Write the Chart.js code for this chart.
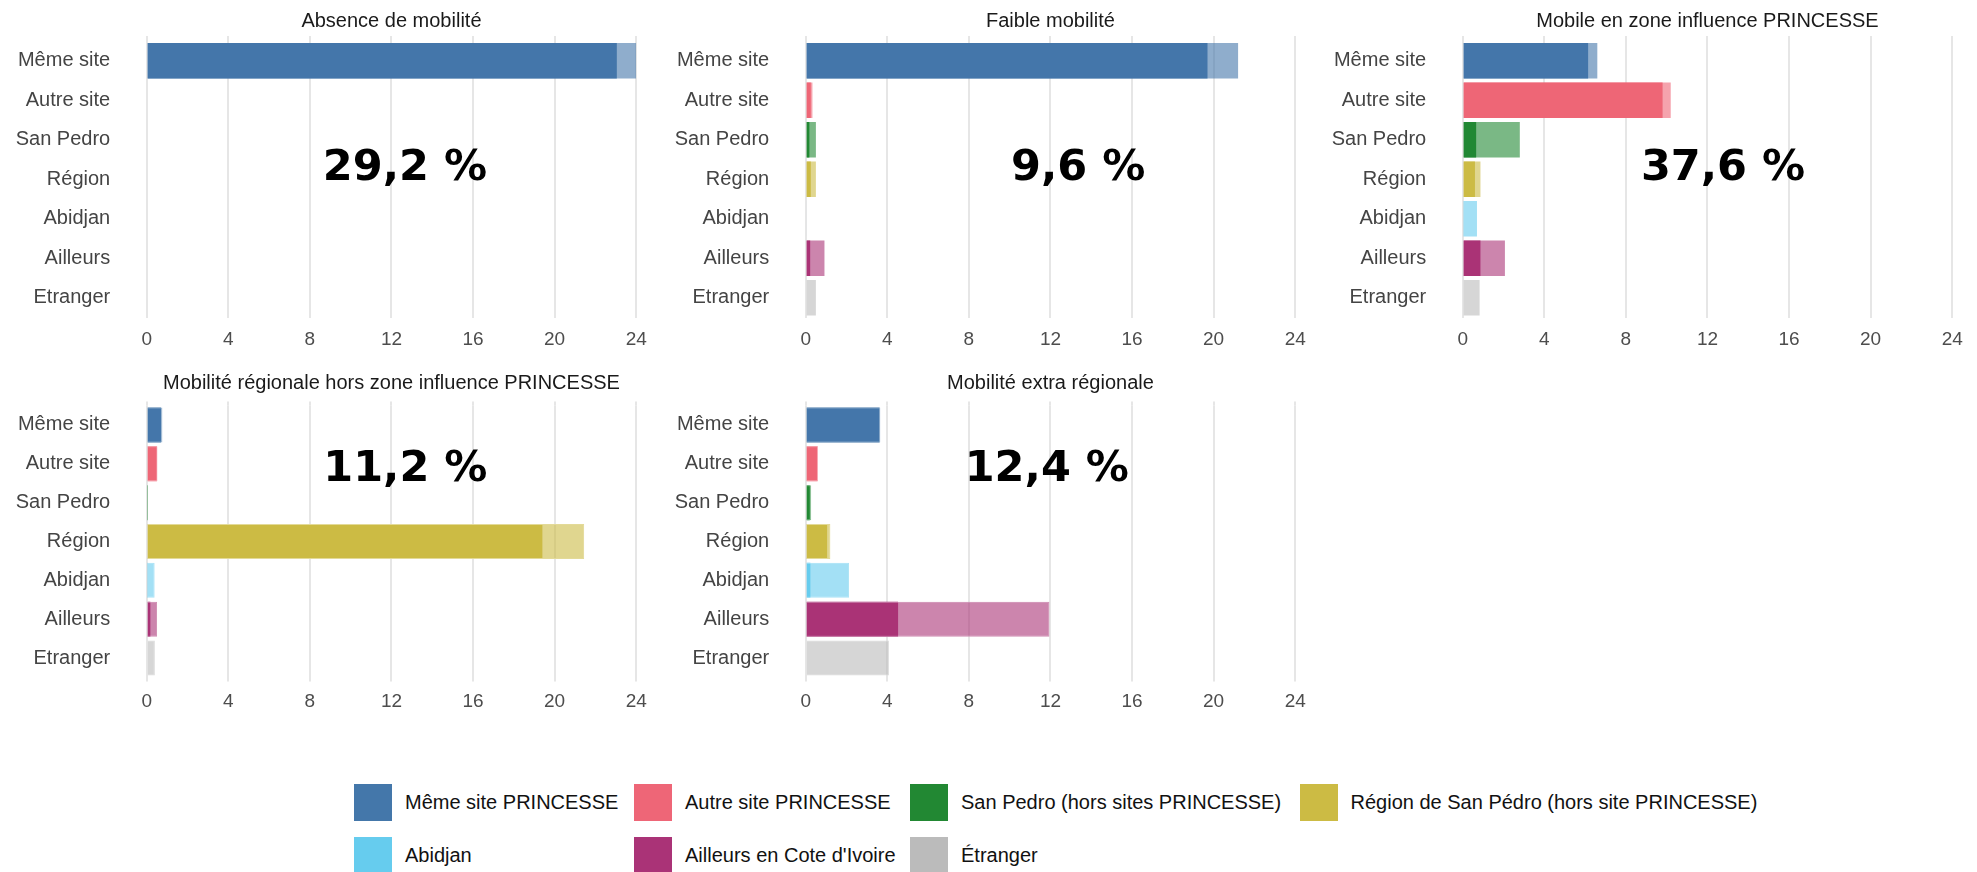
<!DOCTYPE html>
<html>
<head>
<meta charset="utf-8">
<script src="https://cdn.jsdelivr.net/npm/chart.js@4.4.1/dist/chart.umd.min.js"></script>
<style>
  html, body { margin:0; padding:0; background:#fff; width:1977px; height:872px; overflow:hidden; position:relative;
    font-family:"Liberation Sans", Arial, sans-serif; }
  .panel { position:absolute; }
  .leg { position:absolute; display:flex; align-items:center; font-size:20px; color:#111; white-space:nowrap; }
  .sw { width:38px; height:37px; margin-right:13px; flex:none; }
</style>
</head>
<body>
<div class="panel" id="p0"><canvas id="c0"></canvas></div>
<div class="panel" id="p1"><canvas id="c1"></canvas></div>
<div class="panel" id="p2"><canvas id="c2"></canvas></div>
<div class="panel" id="p3"><canvas id="c3"></canvas></div>
<div class="panel" id="p4"><canvas id="c4"></canvas></div>
<div id="legend"></div>
<script>
// ---------------- DATA ----------------
const categories = ["Même site", "Autre site", "San Pedro", "Région", "Abidjan", "Ailleurs", "Etranger"];
const xTickValues = [0, 4, 8, 12, 16, 20, 24];
const panelTitles = ["Absence de mobilité", "Faible mobilité", "Mobile en zone influence PRINCESSE",
                     "Mobilité régionale hors zone influence PRINCESSE", "Mobilité extra régionale"];
const shareLabels = ["29,2 %", "9,6 %", "37,6 %", "11,2 %", "12,4 %"];

const absenceDark    = [23.05, 0, 0, 0, 0, 0, 0];
const absenceTotal   = [24.0, 0, 0, 0, 0, 0, 0];
const faibleDark     = [19.7, 0.25, 0.18, 0.25, 0, 0.22, 0];
const faibleTotal    = [21.2, 0.33, 0.5, 0.5, 0.05, 0.92, 0.5];
const zoneDark       = [6.15, 9.8, 0.66, 0.6, 0.04, 0.87, 0];
const zoneTotal      = [6.6, 10.2, 2.8, 0.87, 0.7, 2.07, 0.83];
const regionaleDark  = [0.7, 0.5, 0.03, 19.4, 0.03, 0.18, 0];
const regionaleTotal = [0.77, 0.53, 0.06, 21.45, 0.39, 0.51, 0.4];
const extraDark      = [3.62, 0.58, 0.2, 1.05, 0.23, 4.53, 0];
const extraTotal     = [3.66, 0.6, 0.27, 1.21, 2.13, 11.95, 4.08];

const seriesColors = ["#4477AA", "#EE6677", "#228833", "#CCBB44", "#66CCEE", "#AA3377", "#BBBBBB"];
const legendLabels = ["Même site PRINCESSE", "Autre site PRINCESSE", "San Pedro (hors sites PRINCESSE)",
                      "Région de San Pédro (hors site PRINCESSE)", "Abidjan", "Ailleurs en Cote d'Ivoire", "Étranger"];

// ---------------- LAYOUT ----------------
const panelDark  = [absenceDark, faibleDark, zoneDark, regionaleDark, extraDark];
const panelTotal = [absenceTotal, faibleTotal, zoneTotal, regionaleTotal, extraTotal];
const boxes = [
  { left: 0,    top: 0,   w: 657, h: 352, padTop: 41,   xH: 34.5, titleY: 21, tickPad: 11,   ticks: false, border: 0, ax: 12.66, ay: 2.74 },
  { left: 659,  top: 0,   w: 657, h: 352, padTop: 41,   xH: 34.5, titleY: 21, tickPad: 11,   ticks: false, border: 0, ax: 13.36, ay: 2.74 },
  { left: 1316, top: 0,   w: 657, h: 352, padTop: 41,   xH: 34.5, titleY: 21, tickPad: 11,   ticks: false, border: 0, ax: 12.76, ay: 2.74 },
  { left: 0,    top: 360, w: 657, h: 354, padTop: 45.5, xH: 36.5, titleY: 23, tickPad: 9,    ticks: true,  border: 1, ax: 12.68, ay: 1.15 },
  { left: 659,  top: 360, w: 657, h: 354, padTop: 45.5, xH: 36.5, titleY: 23, tickPad: 9,    ticks: true,  border: 1, ax: 11.82, ay: 1.15 }
];
const gridExtTop = [5, 5, 5, 4, 4];
const legendCols = [354, 634, 910, 1299.5];
const legendRows = [784, 836.7];
const FONT = '"Liberation Sans", Arial, sans-serif';
const GRID = '#e6e6e6';

function lighten(hex, a) {
  const n = parseInt(hex.slice(1), 16);
  const r = (n >> 16) & 255, g = (n >> 8) & 255, b = n & 255;
  const f = v => Math.round(a * v + (1 - a) * 255);
  return `rgb(${f(r)},${f(g)},${f(b)})`;
}
function rgba(hex, a) {
  const n = parseInt(hex.slice(1), 16);
  return `rgba(${(n >> 16) & 255},${(n >> 8) & 255},${n & 255},${a})`;
}

const panelText = {
  id: 'panelText',
  beforeDatasetsDraw(chart, args, opts) {
    // short extension of the vertical grid lines above the plotting area
    const { ctx, chartArea, scales } = chart;
    ctx.save();
    ctx.strokeStyle = GRID;
    ctx.lineWidth = 2;
    scales.x.ticks.forEach(t => {
      const x = Math.round(scales.x.getPixelForValue(t.value));
      ctx.beginPath();
      ctx.moveTo(x, chartArea.top - opts.ext);
      ctx.lineTo(x, chartArea.top);
      ctx.stroke();
    });
    ctx.restore();
  },
  afterDraw(chart, args, opts) {
    const { ctx, chartArea, scales } = chart;
    ctx.save();
    ctx.textAlign = 'center';
    ctx.textBaseline = 'middle';
    ctx.font = '20px ' + FONT;
    ctx.fillStyle = '#1a1a1a';
    ctx.fillText(opts.title, (chartArea.left + chartArea.right) / 2, opts.titleY);
    ctx.font = 'bold 43px "DejaVu Sans", sans-serif';
    ctx.fillStyle = '#000';
    ctx.fillText(opts.share, scales.x.getPixelForValue(opts.ax), scales.y.getPixelForValue(opts.ay));
    ctx.restore();
  }
};

boxes.forEach((b, i) => {
  const div = document.getElementById('p' + i);
  div.style.left = b.left + 'px';
  div.style.top = b.top + 'px';
  div.style.width = b.w + 'px';
  div.style.height = b.h + 'px';

  new Chart(document.getElementById('c' + i), {
    type: 'bar',
    data: {
      labels: categories,
      datasets: [
        {
          label: 'total',
          data: panelTotal[i],
          backgroundColor: seriesColors.map(c => rgba(c, 0.6)),
          borderColor: seriesColors.map(c => lighten(c, 0.55)),
          borderWidth: b.border,
          borderSkipped: 'start',
          grouped: false,
          order: 0,
          barPercentage: 0.9,
          categoryPercentage: 1
        },
        {
          label: 'dark',
          data: panelDark[i],
          backgroundColor: seriesColors,
          borderWidth: 0,
          grouped: false,
          order: 1,
          barPercentage: 0.9,
          categoryPercentage: 1
        }
      ]
    },
    options: {
      indexAxis: 'y',
      responsive: true,
      maintainAspectRatio: false,
      animation: false,
      events: [],
      layout: { padding: { left: 6.7, right: 20.8, top: b.padTop, bottom: 0 } },
      plugins: {
        legend: { display: false },
        tooltip: { enabled: false },
        title: { display: false },
        panelText: { title: panelTitles[i], share: shareLabels[i], titleY: b.titleY, ax: b.ax, ay: b.ay, ext: gridExtTop[i] }
      },
      scales: {
        x: {
          type: 'linear',
          min: xTickValues[0],
          max: xTickValues[xTickValues.length - 1],
          afterFit: s => { s.height = b.xH; s.paddingLeft = 0; s.paddingRight = 0; },
          afterBuildTicks: s => { s.ticks = xTickValues.map(v => ({ value: v })); },
          grid: { color: GRID, lineWidth: 2, drawTicks: b.ticks, tickLength: 4 },
          border: { display: false },
          ticks: { padding: b.tickPad, maxRotation: 0, color: '#4d4d4d', font: { size: 19, family: FONT } }
        },
        y: {
          afterFit: s => { s.width = 140; s.paddingTop = 0; s.paddingBottom = 0; },
          grid: { display: false, drawTicks: false },
          border: { display: false },
          ticks: { padding: 36.5, color: '#444', font: { size: 20, family: FONT } }
        }
      }
    },
    plugins: [panelText]
  });
});

// ---------------- LEGEND ----------------
const legend = document.getElementById('legend');
legendLabels.forEach((lab, k) => {
  const row = Math.floor(k / legendCols.length), col = k % legendCols.length;
  const item = document.createElement('div');
  item.className = 'leg';
  item.style.left = legendCols[col] + 'px';
  item.style.top = legendRows[row] + 'px';
  const sw = document.createElement('div');
  sw.className = 'sw';
  sw.style.background = seriesColors[k];
  const tx = document.createElement('span');
  tx.textContent = lab;
  item.appendChild(sw);
  item.appendChild(tx);
  legend.appendChild(item);
});
</script>
</body>
</html>
